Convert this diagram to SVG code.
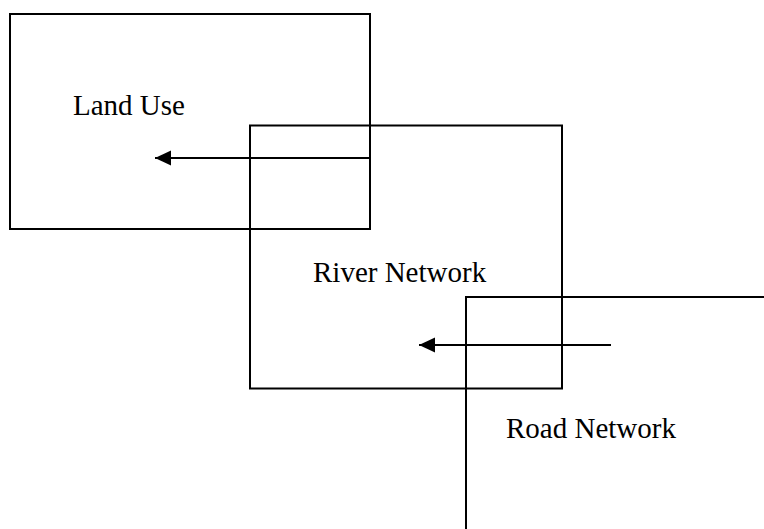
<svg xmlns="http://www.w3.org/2000/svg" width="764" height="529" viewBox="0 0 764 529">
<style>
.box{fill:none;stroke:#000;stroke-width:2}
.lbl{font-family:"Liberation Serif","Times New Roman",serif;font-size:29px;fill:#000}
.conn{stroke:#000;stroke-width:2;fill:none}
</style>
<defs>
<marker id="ah" markerUnits="userSpaceOnUse" markerWidth="16" markerHeight="16" refX="16" refY="8" orient="auto">
<path d="M0,0.5 L16,8 L0,15.5 Z" fill="#000"/>
</marker>
</defs>
<rect width="764" height="529" fill="#fff"/>
<g id="land-use">
<rect class="box" x="10" y="14" width="360" height="215"/>
<text class="lbl" x="73" y="115">Land Use</text>
</g>
<g id="river-network">
<rect class="box" x="250" y="125.5" width="312" height="263"/>
<text class="lbl" x="313" y="282">River Network</text>
</g>
<g id="road-network">
<rect class="box" x="466" y="297" width="400" height="300"/>
<text class="lbl" x="506" y="438">Road Network</text>
</g>
<g id="connectors">
<line class="conn" x1="369" y1="158" x2="155" y2="158" marker-end="url(#ah)"/>
<line class="conn" x1="611" y1="345" x2="419" y2="345" marker-end="url(#ah)"/>
</g>
</svg>
